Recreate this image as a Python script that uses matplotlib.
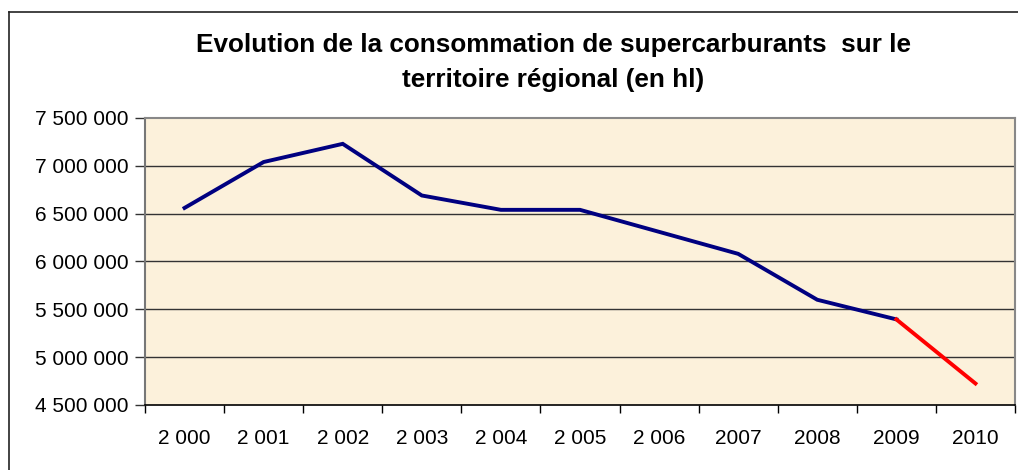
import matplotlib
matplotlib.use("Agg")
import matplotlib.pyplot as plt
from matplotlib.lines import Line2D

plt.rcParams['font.family'] = ['Liberation Sans', 'DejaVu Sans']

years = ["2 000", "2 001", "2 002", "2 003", "2 004", "2 005", "2 006", "2007", "2008", "2009", "2010"]
values = [6560000, 7040000, 7230000, 6690000, 6540000, 6540000, 6310000, 6080000, 5600000, 5395000, 4725000]
yticks = [4500000, 5000000, 5500000, 6000000, 6500000, 7000000, 7500000]
ytick_labels = ["4 500 000", "5 000 000", "5 500 000", "6 000 000", "6 500 000", "7 000 000", "7 500 000"]
title_lines = ["Evolution de la consommation de supercarburants  sur le", "territoire régional (en hl)"]

W, H = 1018, 470
fig = plt.figure(figsize=(W / 100, H / 100), dpi=100)
fig.patch.set_facecolor('white')

# outer frame
fig.add_artist(Line2D([9 / W, 9 / W], [0, 1 - 12 / H], transform=fig.transFigure, color='#222222', lw=1.2))
fig.add_artist(Line2D([9 / W, 1], [1 - 12 / H, 1 - 12 / H], transform=fig.transFigure, color='#222222', lw=1.2))

ax = fig.add_axes([145 / W, 65 / H, 870 / W, 287 / H])
ax.set_facecolor('#FCF1DB')

x = list(range(len(years)))
ax.plot(x[:10], values[:10], color='#000080', lw=2.8, solid_joinstyle='miter', zorder=3)
ax.plot(x[9:], values[9:], color='#FF0000', lw=2.8, zorder=3)

ax.set_xlim(-0.5, len(years) - 0.5)
ax.set_ylim(4500000, 7500000)
ax.set_yticks(yticks)
ax.set_yticklabels(ytick_labels)
ax.set_xticks([i - 0.5 for i in range(len(years) + 1)])
ax.set_xticklabels([])
ax.set_xticks(x, minor=True)
ax.set_xticklabels(years, minor=True)
ax.tick_params(axis='x', which='minor', length=0, pad=17, labelsize=15)
ax.tick_params(axis='x', which='major', length=6, width=1, color='black', direction='out')
ax.tick_params(axis='y', length=7, width=1, color='#333333', pad=5, labelsize=15)

for yv in yticks[1:-1]:
    ax.axhline(yv, color='#333333', lw=1.0, zorder=1)

for s in ['top', 'right']:
    ax.spines[s].set_color('#888888')
    ax.spines[s].set_linewidth(1.5)
ax.spines['left'].set_color('#777777')
ax.spines['left'].set_linewidth(1.5)
ax.spines['bottom'].set_color('black')
ax.spines['bottom'].set_linewidth(1.2)

fig.text(553 / W, 1 - 45 / H, title_lines[0], ha='center', va='center', fontsize=18.8, fontweight='bold')
fig.text(553 / W, 1 - 80 / H, title_lines[1], ha='center', va='center', fontsize=18.8, fontweight='bold')

fig.savefig('out.png', dpi=100)
